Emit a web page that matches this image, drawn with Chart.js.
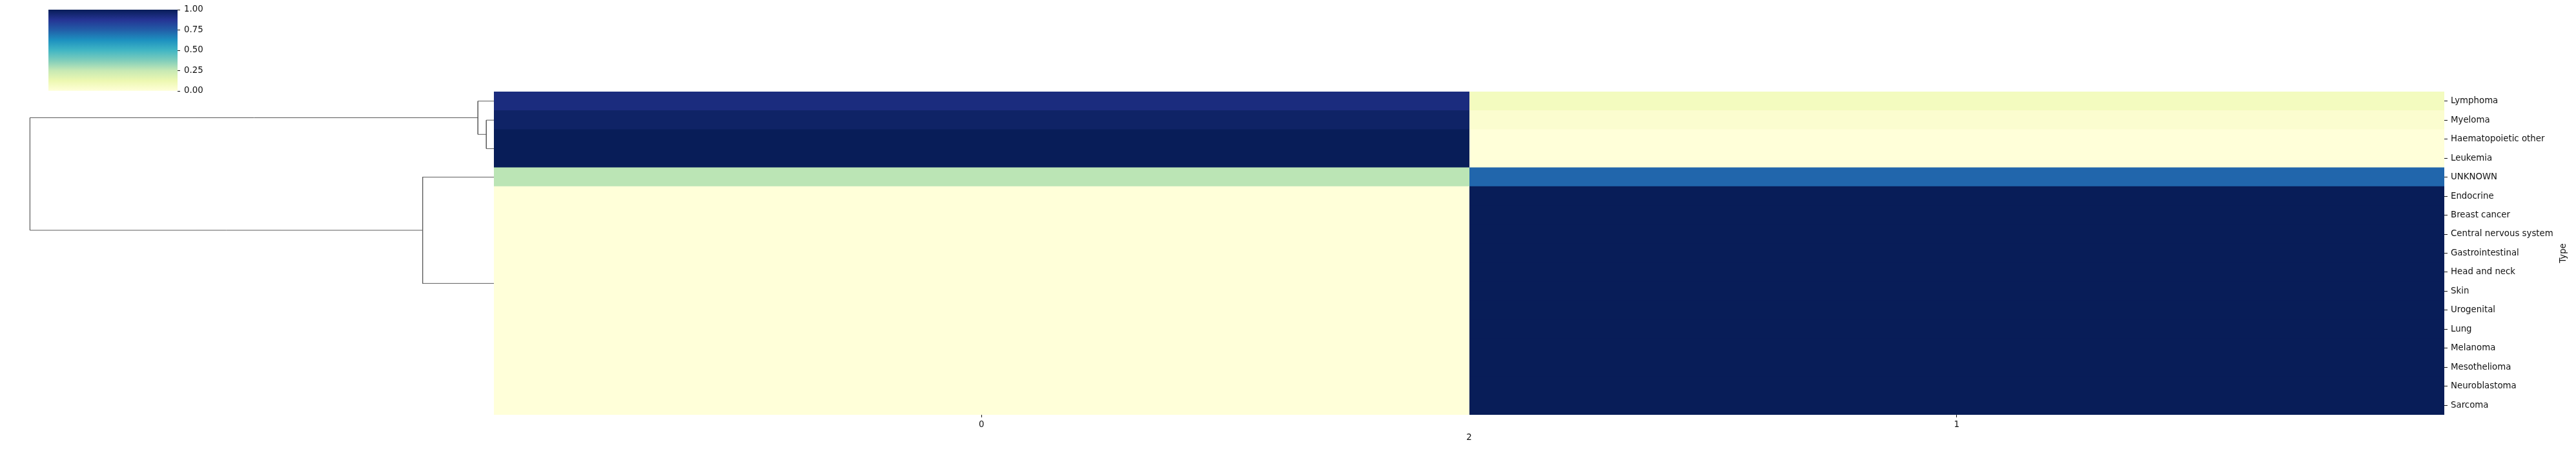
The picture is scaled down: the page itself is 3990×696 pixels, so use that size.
<!DOCTYPE html>
<html><head><meta charset="utf-8">
<script src="https://cdn.jsdelivr.net/npm/chart.js@4/dist/chart.umd.min.js"></script>
<style>
html,body{margin:0;padding:0;background:#fff;}
#wrap{position:relative;width:3990px;height:696px;background:#fff;overflow:hidden;}
canvas{position:absolute;left:0;top:0;}
</style></head><body>
<div id="wrap">
<canvas id="dendro" width="3990" height="696" style="width:3990px;height:696px"></canvas>
<canvas id="heat" width="3990" height="696" style="width:3990px;height:696px"></canvas>
<canvas id="cbar" width="3990" height="696" style="width:3990px;height:696px"></canvas>
</div>
<script>
// ---- data ----
const rowLabels = ['Lymphoma','Myeloma','Haematopoietic other','Leukemia','UNKNOWN','Endocrine','Breast cancer','Central nervous system','Gastrointestinal','Head and neck','Skin','Urogenital','Lung','Melanoma','Mesothelioma','Neuroblastoma','Sarcoma'];
const colLabels = ['0','1'];
const col0Values = [0.92,0.97,1,1,0.27,0,0,0,0,0,0,0,0,0,0,0,0];
const col1Values = [0.08,0.03,0,0,0.73,1,1,1,1,1,1,1,1,1,1,1,1];
const colorbarTicks = [0,0.25,0.5,0.75,1];
const xAxisTitle = '2';
const yAxisTitle = 'Type';
// dendrogram links (scipy-style): positions along the rows (leaf centres) and merge distances
const linkRows = [[1.5,1.5,3.0,3.0],[0.5,0.5,2.25,2.25],[4.5,4.5,10.09,10.09],[1.375,1.375,7.294,7.294]];
const linkDist = [[0,0.0163,0.0163,0],[0,0.0344,0.0344,0.0163],[0,0.1536,0.1536,0],[0.0344,1,1,0.1536]];

// ---- styling ----
const ylgnbu = ['#ffffd9','#edf8b1','#c7e9b4','#7fcdbb','#41b6c4','#1d91c0','#225ea8','#253494','#081d58'];
const textColor = '#111';
const FONT = {family:'DejaVu Sans', size:13.33};
Chart.defaults.font.family = FONT.family;
Chart.defaults.font.size = FONT.size;
Chart.defaults.color = textColor;

function hex2rgb(h){return [parseInt(h.substr(1,2),16),parseInt(h.substr(3,2),16),parseInt(h.substr(5,2),16)];}
function cmap(v){
  const n = ylgnbu.length-1;
  const t = Math.max(0,Math.min(1,v))*n;
  const i = Math.min(n-1, Math.floor(t));
  const f = t-i;
  const a = hex2rgb(ylgnbu[i]), b = hex2rgb(ylgnbu[i+1]);
  return 'rgb(' + a.map((c,k)=>Math.round(c+(b[k]-c)*f)).join(',') + ')';
}

const W = 3990, H = 696;
const heatBox = {left:765, top:142, right:3786, bottom:643};
const cbBox = {left:75, top:15, right:275, bottom:141};

// ---- heatmap ----
const typeLabelPlugin = {
  id:'typeLabel',
  afterDraw(chart){
    const c = chart.ctx, a = chart.chartArea;
    c.save();
    c.font = FONT.size + 'px "' + FONT.family + '"';
    c.fillStyle = textColor;
    c.textAlign = 'center';
    c.textBaseline = 'middle';
    c.translate(3971, (a.top + a.bottom)/2);
    c.rotate(-Math.PI/2);
    c.fillText(yAxisTitle, 0, 0);
    c.restore();
  }
};

new Chart(document.getElementById('heat'), {
  type:'bar',
  data:{
    labels: rowLabels,
    datasets: [col0Values, col1Values].map((vals, i) => ({
      label: colLabels[i],
      data: rowLabels.map(() => [i, i+1]),
      backgroundColor: vals.map(cmap),
      borderWidth: 0,
      inflateAmount: 0.5,
      barPercentage: 1,
      categoryPercentage: 1,
      grouped: false
    }))
  },
  options:{
    indexAxis:'y',
    responsive:false,
    maintainAspectRatio:false,
    animation:false,
    devicePixelRatio:1,
    layout:{padding:{left:heatBox.left, top:heatBox.top, right:0, bottom:0}},
    plugins:{legend:{display:false}, tooltip:{enabled:false}},
    scales:{
      x:{
        type:'linear', position:'bottom', min:0, max:colLabels.length,
        afterBuildTicks: s => { s.ticks = colLabels.map((l,i)=>({value:i+0.5})); },
        ticks:{callback:(v,i)=>colLabels[i], padding:4, maxRotation:0, color:textColor},
        grid:{drawOnChartArea:false, drawTicks:true, tickLength:4, tickColor:textColor},
        border:{display:false},
        title:{display:true, text:xAxisTitle, color:textColor, padding:{top:0,bottom:9}},
        afterFit: s => { s.height = H - heatBox.bottom; }
      },
      y:{
        type:'category', position:'right', offset:true,
        ticks:{autoSkip:false, padding:5, color:textColor, crossAlign:'near'},
        grid:{offset:false, drawOnChartArea:false, drawTicks:true, tickLength:5, tickColor:textColor},
        border:{display:false},
        afterFit: s => { s.width = W - heatBox.right; }
      }
    }
  },
  plugins:[typeLabelPlugin]
});

// ---- dendrogram ----
new Chart(document.getElementById('dendro'), {
  type:'scatter',
  data:{
    datasets: linkRows.map((rows, i) => ({
      data: rows.map((r, j) => ({x: linkDist[i][j], y: r})),
      showLine:true, pointRadius:0, borderColor:'#5a5a5a', borderWidth:1, tension:0, fill:false
    }))
  },
  options:{
    responsive:false, maintainAspectRatio:false, animation:false, devicePixelRatio:1,
    layout:{padding:{left:10.5, right:W-heatBox.left, top:heatBox.top, bottom:H-heatBox.bottom}},
    plugins:{legend:{display:false}, tooltip:{enabled:false}},
    scales:{
      x:{type:'linear', reverse:true, min:0, max:1.05, display:false},
      y:{type:'linear', reverse:true, min:0, max:rowLabels.length, display:false}
    }
  }
});

// ---- colorbar ----
new Chart(document.getElementById('cbar'), {
  type:'bar',
  data:{
    labels:['cb'],
    datasets:[{
      data:[[colorbarTicks[0], colorbarTicks[colorbarTicks.length-1]]],
      backgroundColor: (ctx) => {
        const ch = ctx.chart, a = ch.chartArea;
        if (!a) return 'transparent';
        const g = ch.ctx.createLinearGradient(0, a.bottom, 0, a.top);
        ylgnbu.forEach((c,i)=>g.addColorStop(i/(ylgnbu.length-1), c));
        return g;
      },
      borderWidth:0, barPercentage:1, categoryPercentage:1
    }]
  },
  options:{
    responsive:false, maintainAspectRatio:false, animation:false, devicePixelRatio:1,
    layout:{padding:{left:cbBox.left, top:cbBox.top, right:W-cbBox.right-80, bottom:H-cbBox.bottom}},
    plugins:{legend:{display:false}, tooltip:{enabled:false}},
    scales:{
      x:{display:false, offset:true},
      y:{
        type:'linear', position:'right', min:0, max:1,
        afterBuildTicks: s => { s.ticks = colorbarTicks.map(v=>({value:v})); },
        ticks:{callback:v=>v.toFixed(2), padding:6, color:textColor, crossAlign:'near'},
        grid:{drawOnChartArea:false, drawTicks:true, tickLength:4, tickColor:textColor},
        border:{display:false},
        afterFit: s => { s.width = 80; }
      }
    }
  }
});
</script>
</body></html>
